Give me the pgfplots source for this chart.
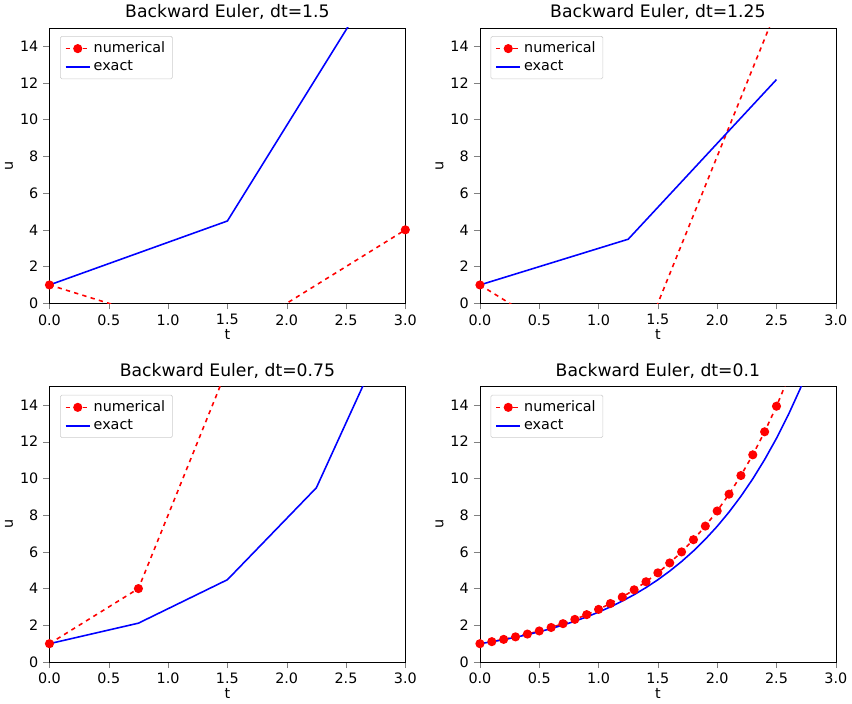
\documentclass[border=0pt]{standalone}
\usepackage{fontspec}
\setmainfont{DejaVu Sans}
\usepackage{pgfplots}
\pgfplotsset{compat=1.18}
\usepgfplotslibrary{groupplots}
\pgfplotsset{num/.style={red, dashed, line width=1.1pt, mark=*, mark size=2.6pt, mark options={solid}},
 ex/.style={blue, line width=1.1pt, no marks}}
\begin{document}
\begin{tikzpicture}
\begin{groupplot}[group style={group size=2 by 2, horizontal sep=52pt, vertical sep=58pt},
 scale only axis, width=248pt, height=192pt, xmin=0, xmax=3, ymin=0, ymax=15,
 xtick={0,0.5,...,3}, ytick={0,2,...,14},
 /pgf/number format/assume math mode=true,
 /pgf/number format/fixed, /pgf/number format/fixed zerofill,
 xticklabel style={/pgf/number format/precision=1},
 yticklabel style={/pgf/number format/precision=0},
 tick label style={font=\fontsize{10}{12}\selectfont},
 label style={font=\fontsize{10}{12}\selectfont},
 title style={font=\fontsize{12}{14}\selectfont, yshift=-4pt},
 xlabel={t}, ylabel={u}, xlabel style={yshift=4pt}, ylabel style={yshift=-2pt},
 tick align=outside, tick pos=left,
 legend pos=north west, legend cell align=left,
 legend style={font=\fontsize{10}{12}\selectfont, draw=black!20, rounded corners=1pt}]
\nextgroupplot[title={Backward Euler, dt=1.5}]
\addplot[num] coordinates {(0,1)(1.5,-2)(3,4)};
\addplot[ex] coordinates {(0,1)(1.5,4.4817)(3,20.0855)};
\legend{numerical,exact}
\nextgroupplot[title={Backward Euler, dt=1.25}]
\addplot[num] coordinates {(0,1)(1.25,-4)(2.5,16)};
\addplot[ex] coordinates {(0,1)(1.25,3.4903)(2.5,12.1825)};
\legend{numerical,exact}
\nextgroupplot[title={Backward Euler, dt=0.75}]
\addplot[num] coordinates {(0,1)(0.75,4)(1.5,16)(2.25,64)(3,256)};
\addplot[ex] coordinates {(0,1)(0.75,2.117)(1.5,4.4817)(2.25,9.4877)(3,20.0855)};
\legend{numerical,exact}
\nextgroupplot[title={Backward Euler, dt=0.1}]
\addplot[num] coordinates {(0,1)(0.1,1.1111)(0.2,1.2346)(0.3,1.3717)(0.4,1.5242)(0.5,1.6935)(0.6,1.8817)(0.7,2.0908)(0.8,2.3231)(0.9,2.5812)(1.0,2.8680)(1.1,3.1866)(1.2,3.5407)(1.3,3.9341)(1.4,4.3712)(1.5,4.8569)(1.6,5.3966)(1.7,5.9962)(1.8,6.6625)(1.9,7.4028)(2.0,8.2253)(2.1,9.1392)(2.2,10.1547)(2.3,11.2830)(2.4,12.5367)(2.5,13.9297)(2.6,15.4774)(2.7,17.1971)(2.8,19.1079)(2.9,21.2310)(3.0,23.5900)};
\addplot[ex] coordinates {(0,1)(0.1,1.1052)(0.2,1.2214)(0.3,1.3499)(0.4,1.4918)(0.5,1.6487)(0.6,1.8221)(0.7,2.0138)(0.8,2.2255)(0.9,2.4596)(1.0,2.7183)(1.1,3.0042)(1.2,3.3201)(1.3,3.6693)(1.4,4.0552)(1.5,4.4817)(1.6,4.9530)(1.7,5.4739)(1.8,6.0496)(1.9,6.6859)(2.0,7.3891)(2.1,8.1662)(2.2,9.0250)(2.3,9.9742)(2.4,11.0232)(2.5,12.1825)(2.6,13.4637)(2.7,14.8797)(2.8,16.4446)(2.9,18.1741)(3.0,20.0855)};
\legend{numerical,exact}
\end{groupplot}
\end{tikzpicture}
\end{document}
